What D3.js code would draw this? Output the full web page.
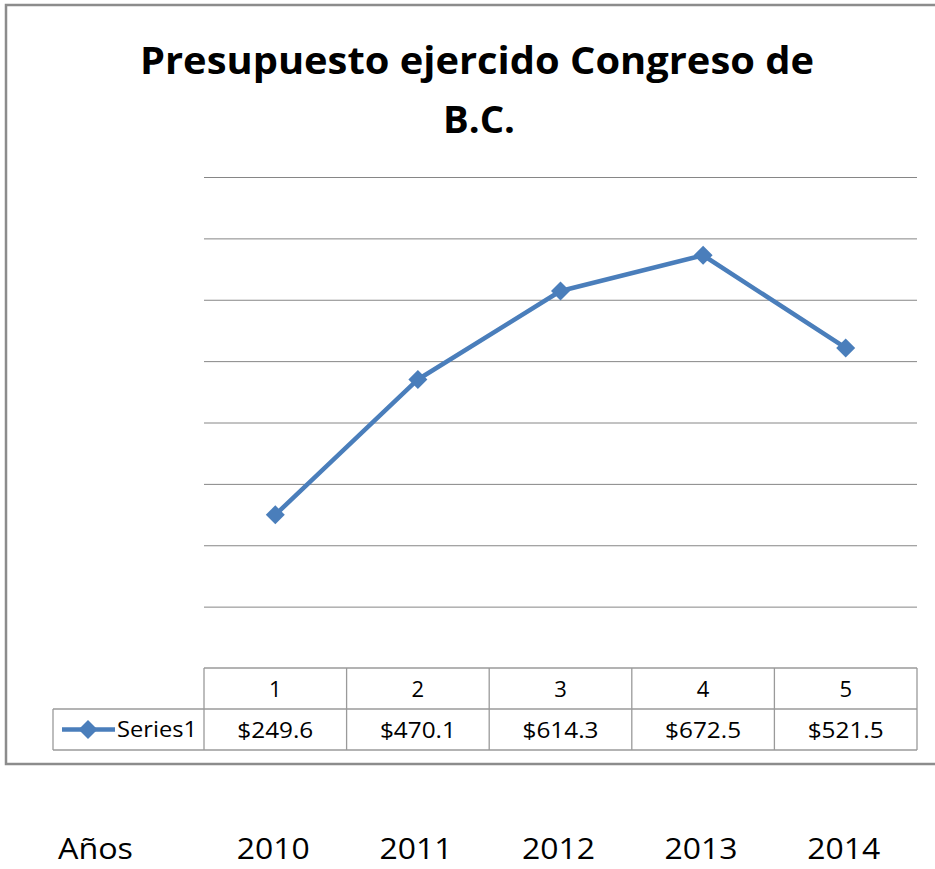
<!DOCTYPE html>
<html>
<head>
<meta charset="utf-8">
<script src="https://cdn.jsdelivr.net/npm/d3@7"></script>
<style>
  body { margin: 0; background: #fff; }
  svg { display: block; }
  text { font-family: "Open Sans", "Liberation Sans", sans-serif; fill: #000; }
</style>
</head>
<body>
<div class="chart_container"></div>
<script>
// datos
var categories = ["1", "2", "3", "4", "5"];
var values = [249.6, 470.1, 614.3, 672.5, 521.5];
var valueLabels = ["$249.6", "$470.1", "$614.3", "$672.5", "$521.5"];
var years = ["2010", "2011", "2012", "2013", "2014"];
var yTicks = [0, 100, 200, 300, 400, 500, 600, 700, 800];
var seriesName = "Series1";

var W = 935, H = 869;
var svg = d3.select(".chart_container").append("svg")
    .attr("width", W)
    .attr("height", H);

var plot = {left: 204, right: 917, top: 177, bottom: 668};
var blue = "#4a7ebb";

// marco del grafico
svg.append("rect")
    .attr("x", 6).attr("y", 5)
    .attr("width", 940).attr("height", 759)
    .attr("fill", "none")
    .attr("stroke", "#8c8c8c")
    .attr("stroke-width", 2.5);

// titulo
var title = svg.append("g");
title.append("text")
    .attr("x", 477).attr("y", 74)
    .attr("text-anchor", "middle")
    .attr("font-size", 37).attr("font-weight", "bold")
    .attr("textLength", 674).attr("lengthAdjust", "spacingAndGlyphs")
    .text("Presupuesto ejercido Congreso de");
title.append("text")
    .attr("x", 479).attr("y", 133)
    .attr("text-anchor", "middle")
    .attr("font-size", 37).attr("font-weight", "bold")
    .attr("textLength", 72).attr("lengthAdjust", "spacingAndGlyphs")
    .text("B.C.");

var x = d3.scaleBand()
    .domain(categories)
    .range([plot.left, plot.right]);
var y = d3.scaleLinear()
    .domain([0, 800])
    .range([plot.bottom, plot.top]);

// lineas de cuadricula
svg.append("g")
    .attr("class", "grid")
    .attr("transform", "translate(" + plot.left + ",0)")
    .call(d3.axisLeft(y).tickValues(yTicks.slice(1)).tickSize(-(plot.right - plot.left)).tickFormat(""))
    .call(function(g){
        g.select(".domain").remove();
        g.selectAll(".tick line").attr("stroke", "#868686").attr("stroke-width", 1);
    });

// linea de la serie
var line = d3.line()
    .x(function(d, i){ return x(categories[i]) + x.bandwidth() / 2; })
    .y(function(d){ return y(d); });

svg.append("path")
    .datum(values)
    .attr("d", line)
    .attr("fill", "none")
    .attr("stroke", blue)
    .attr("stroke-width", 4.5)
    .attr("stroke-linejoin", "round");

var diamond = d3.symbol().type(d3.symbolDiamond2).size(230);
svg.selectAll(".marker")
    .data(values)
    .enter().append("path")
    .attr("class", "marker")
    .attr("d", diamond)
    .attr("fill", blue)
    .attr("transform", function(d, i){
        return "translate(" + (x(categories[i]) + x.bandwidth() / 2) + "," + y(d) + ")";
    });

// tabla de datos
var rowH = 41;
var row1 = plot.bottom, row2 = plot.bottom + rowH, row3 = plot.bottom + 2 * rowH;
var tbl = svg.append("g").attr("stroke", "#9a9a9a").attr("stroke-width", 1.3);
tbl.append("line").attr("x1", plot.left).attr("x2", plot.right).attr("y1", row1).attr("y2", row1);
tbl.append("line").attr("x1", 53).attr("x2", plot.right).attr("y1", row2).attr("y2", row2);
tbl.append("line").attr("x1", 53).attr("x2", plot.right).attr("y1", row3).attr("y2", row3);
tbl.append("line").attr("x1", 53).attr("x2", 53).attr("y1", row2).attr("y2", row3);
tbl.selectAll(".vline")
    .data(categories)
    .enter().append("line")
    .attr("class", "vline")
    .attr("x1", function(d){ return x(d); })
    .attr("x2", function(d){ return x(d); })
    .attr("y1", row1).attr("y2", row3);
tbl.append("line").attr("x1", plot.right).attr("x2", plot.right).attr("y1", row1).attr("y2", row3);

svg.selectAll(".cat")
    .data(categories)
    .enter().append("text")
    .attr("class", "cat")
    .attr("x", function(d){ return x(d) + x.bandwidth() / 2; })
    .attr("y", row1 + 29)
    .attr("text-anchor", "middle")
    .attr("font-size", 22)
    .text(function(d){ return d; });

svg.selectAll(".val")
    .data(valueLabels)
    .enter().append("text")
    .attr("class", "val")
    .attr("x", function(d, i){ return x(categories[i]) + x.bandwidth() / 2; })
    .attr("y", row2 + 29)
    .attr("text-anchor", "middle")
    .attr("font-size", 22)
    .attr("textLength", 76).attr("lengthAdjust", "spacingAndGlyphs")
    .text(function(d){ return d; });

// leyenda en la tabla
var legY = row2 + rowH / 2;
svg.append("line")
    .attr("x1", 62).attr("x2", 115)
    .attr("y1", legY).attr("y2", legY)
    .attr("stroke", blue).attr("stroke-width", 4.5);
svg.append("path")
    .attr("d", diamond)
    .attr("fill", blue)
    .attr("transform", "translate(88," + legY + ")");
svg.append("text")
    .attr("x", 117).attr("y", row2 + 28)
    .attr("font-size", 21)
    .attr("textLength", 80).attr("lengthAdjust", "spacingAndGlyphs")
    .text(seriesName);

// fila de años
var yearY = 859;
svg.append("text")
    .attr("x", 58).attr("y", yearY)
    .attr("font-size", 30)
    .attr("textLength", 75).attr("lengthAdjust", "spacingAndGlyphs")
    .text("Años");
svg.selectAll(".year")
    .data(years)
    .enter().append("text")
    .attr("class", "year")
    .attr("x", function(d, i){ return x(categories[i]) + x.bandwidth() / 2 - 2; })
    .attr("y", yearY)
    .attr("text-anchor", "middle")
    .attr("font-size", 30)
    .attr("textLength", 73).attr("lengthAdjust", "spacingAndGlyphs")
    .text(function(d){ return d; });
</script>
</body>
</html>
